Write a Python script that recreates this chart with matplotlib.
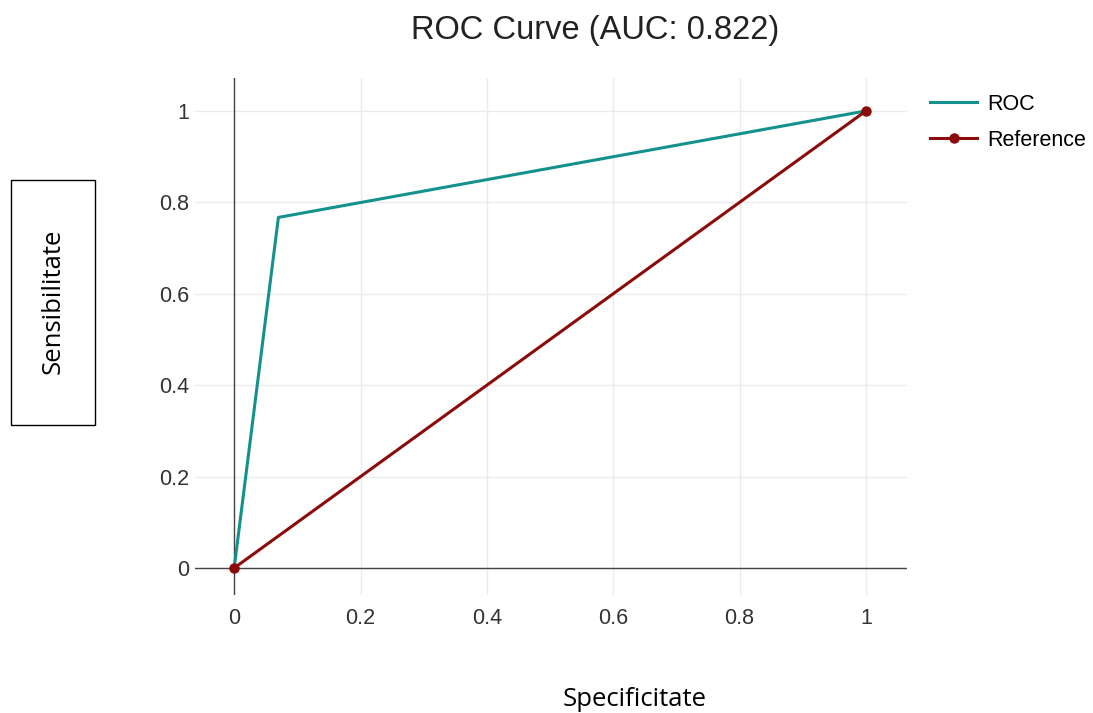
import matplotlib
matplotlib.use("Agg")
import matplotlib.pyplot as plt
from matplotlib.patches import Rectangle

# data
roc_fpr = [0.0, 0.07, 1.0]
roc_tpr = [0.0, 0.767, 1.0]
ref_x = [0.0, 1.0]
ref_y = [0.0, 1.0]
ticks = [0, 0.2, 0.4, 0.6, 0.8, 1]
tick_labels = ["0", "0.2", "0.4", "0.6", "0.8", "1"]
auc = 0.822

C_ROC = "#13918c"
C_REF = "#8b0a0a"
W, H = 1093, 713

fig = plt.figure(figsize=(W / 100, H / 100), dpi=100)
ax = fig.add_axes([195 / W, (H - 595) / H, (907 - 195) / W, (595 - 78) / H])

ax.plot(roc_fpr, roc_tpr, color=C_ROC, lw=2.2, label="ROC", zorder=3)
ax.plot(ref_x, ref_y, color=C_REF, lw=2.2, marker="o", ms=6.5, label="Reference", zorder=4)

ax.set_xlim(-0.062, 1.065)
ax.set_ylim(-0.059, 1.072)
ax.set_xticks(ticks, tick_labels)
ax.set_yticks(ticks, tick_labels)
ax.tick_params(length=0, labelsize=15.5, labelcolor="#333333")
ax.tick_params(axis="x", pad=9)
ax.tick_params(axis="y", pad=4)
for lab in ax.get_xticklabels() + ax.get_yticklabels():
    lab.set_family("Liberation Sans")
ax.grid(True, color="#ebebeb", lw=1)
ax.set_axisbelow(True)
for s in ax.spines.values():
    s.set_visible(False)
ax.axvline(0, color="#444444", lw=1, zorder=2)
ax.axhline(0, color="#444444", lw=1, zorder=2)

fig.text(595 / W, 1 - 30 / H, f"ROC Curve (AUC: {auc})", ha="center", va="center",
         fontsize=23.5, family="Liberation Sans", color="#222222")

fig.legend(loc="upper left", bbox_to_anchor=(930 / W, 1 - 94 / H), frameon=False,
           prop={"family": "Liberation Sans", "size": 15.5}, handlelength=2.2,
           labelspacing=0.68, handletextpad=0.45, borderpad=0, borderaxespad=0)

# axis titles
fig.patches.append(Rectangle((11 / W, 1 - 425 / H), 84 / W, 245 / H, transform=fig.transFigure,
                             fill=False, edgecolor="black", lw=1))
fig.text(53 / W, 1 - 301 / H, "Sensibilitate", rotation=90, ha="center", va="center",
         fontsize=18.5, family="Open Sans", color="black")
fig.text(635 / W, 1 - 699 / H, "Specificitate", ha="center", va="center",
         fontsize=18.5, family="Open Sans", color="black")

fig.savefig("out.png", dpi=100)
